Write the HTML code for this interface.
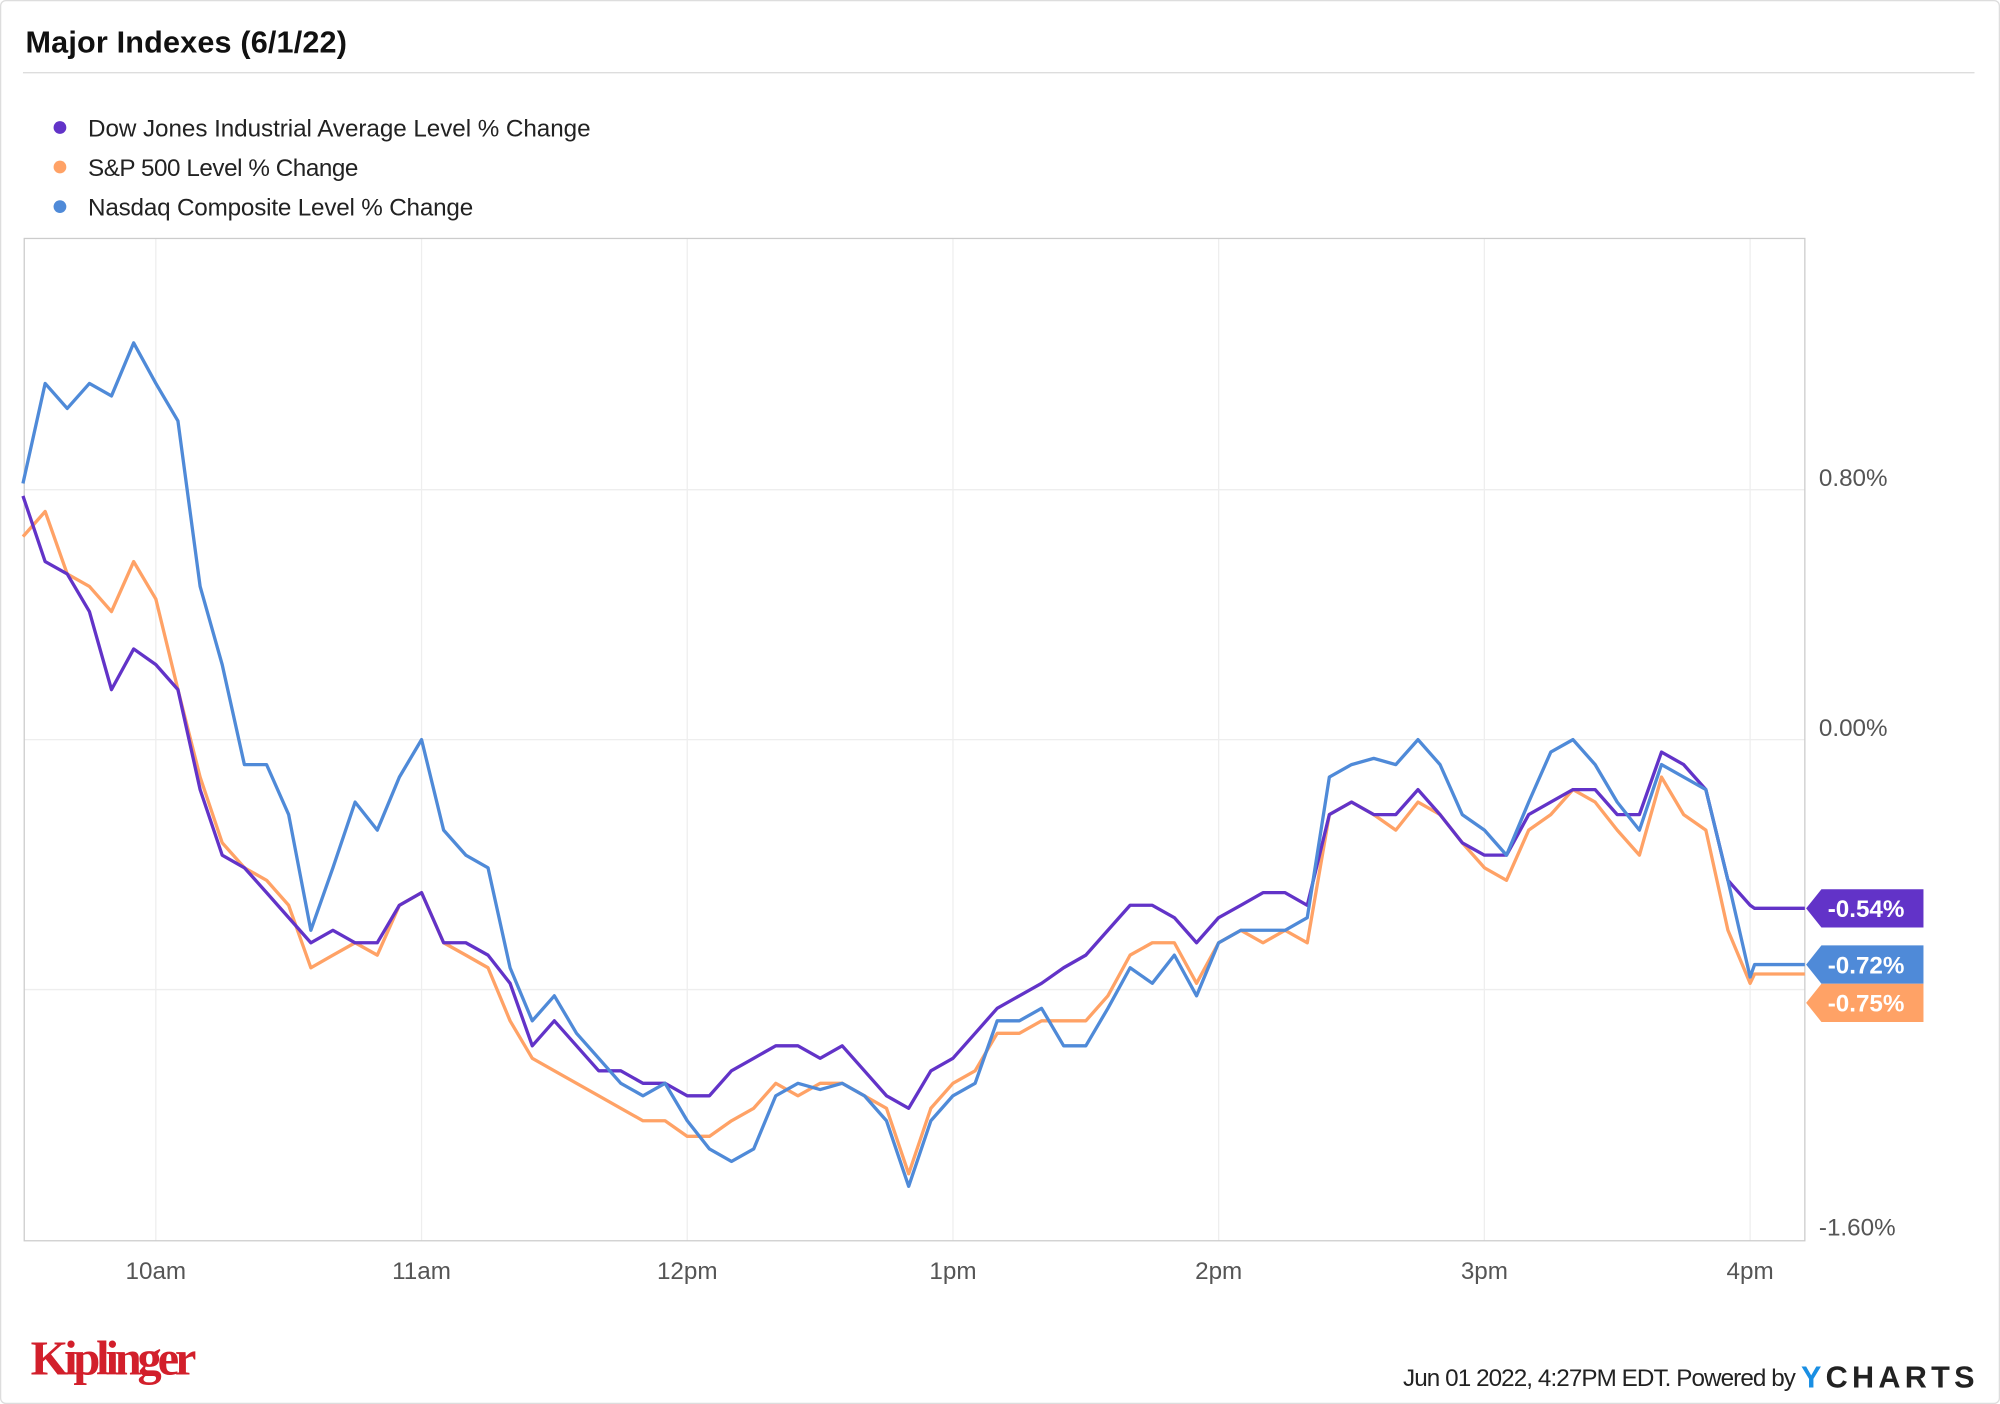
<!DOCTYPE html>
<html><head><meta charset="utf-8"><style>
html,body{margin:0;padding:0;background:#fff;}
svg{display:block;font-family:"Liberation Sans",sans-serif;}
</style></head><body>
<svg width="2000" height="1404" viewBox="0 0 1568 1101" preserveAspectRatio="none" xmlns="http://www.w3.org/2000/svg">
<rect x="0.5" y="0.5" width="1567" height="1100" rx="4" fill="#fff" stroke="#ddd"/>
<text x="20" y="41" font-size="24" font-weight="bold" fill="#111" textLength="252">Major Indexes (6/1/22)</text>
<line x1="18" y1="57" x2="1548" y2="57" stroke="#ddd"/>
<g font-size="19" fill="#222">
<g><circle cx="47" cy="100" r="5" fill="#6233c8"/><text x="69" y="107" textLength="394">Dow Jones Industrial Average Level % Change</text></g>
<g><circle cx="47" cy="131" r="5" fill="#ffa266"/><text x="69" y="138" textLength="212">S&amp;P 500 Level % Change</text></g>
<g><circle cx="47" cy="162" r="5" fill="#4f8ad8"/><text x="69" y="169" textLength="302">Nasdaq Composite Level % Change</text></g>
</g>
<g id="grid"></g>
<rect x="19" y="187" width="1396" height="786" fill="none" stroke="#ccc"/>
<g id="series"></g>
<g id="tags"></g>
<text x="24" y="1078" font-family="Liberation Serif,serif" font-size="38" font-weight="bold" fill="#d21f2b" textLength="130">Kiplinger</text>
<text x="1100" y="1087" font-size="19" fill="#222" textLength="308">Jun 01 2022, 4:27PM EDT. Powered by</text>
<text x="1412" y="1088" font-size="24" font-weight="bold" fill="#222" textLength="136"><tspan fill="#1a8fe3">Y</tspan>CHARTS</text>
</svg>
<script>
const xTicks=['10am','11am','12pm','1pm','2pm','3pm','4pm'];
const xTickMin=[30,90,150,210,270,330,390];
const yTicks=[0.8,0,-1.6];
const yGrid=[0.8,0,-0.8];
const yTickLabels=['0.80%','0.00%','-1.60%'];
const stepMin=5;
const dow=[0.78,0.57,0.53,0.41,0.16,0.29,0.24,0.16,-0.16,-0.37,
-0.41,-0.49,-0.57,-0.65,-0.61,-0.65,-0.65,-0.53,-0.49,-0.65,
-0.65,-0.69,-0.78,-0.98,-0.90,-0.98,-1.06,-1.06,-1.10,-1.10,
-1.14,-1.14,-1.06,-1.02,-0.98,-0.98,-1.02,-0.98,-1.06,-1.14,
-1.18,-1.06,-1.02,-0.94,-0.86,-0.82,-0.78,-0.73,-0.69,-0.61,
-0.53,-0.53,-0.57,-0.65,-0.57,-0.53,-0.49,-0.49,-0.53,-0.24,
-0.20,-0.24,-0.24,-0.16,-0.24,-0.33,-0.37,-0.37,-0.24,-0.20,
-0.16,-0.16,-0.24,-0.24,-0.04,-0.08,-0.16,-0.45,-0.53];
const sp500=[0.65,0.73,0.53,0.49,0.41,0.57,0.45,0.16,-0.12,-0.33,
-0.41,-0.45,-0.53,-0.73,-0.69,-0.65,-0.69,-0.53,-0.49,-0.65,
-0.69,-0.73,-0.90,-1.02,-1.06,-1.10,-1.14,-1.18,-1.22,-1.22,
-1.27,-1.27,-1.22,-1.18,-1.10,-1.14,-1.10,-1.10,-1.14,-1.18,
-1.39,-1.18,-1.10,-1.06,-0.94,-0.94,-0.90,-0.90,-0.90,-0.82,
-0.69,-0.65,-0.65,-0.78,-0.65,-0.61,-0.65,-0.61,-0.65,-0.24,
-0.20,-0.24,-0.29,-0.20,-0.24,-0.33,-0.41,-0.45,-0.29,-0.24,
-0.16,-0.20,-0.29,-0.37,-0.12,-0.24,-0.29,-0.61,-0.78];
const nasdaq=[0.82,1.14,1.06,1.14,1.10,1.27,1.14,1.02,0.49,0.24,
-0.08,-0.08,-0.24,-0.61,-0.41,-0.20,-0.29,-0.12,0.00,-0.29,
-0.37,-0.41,-0.73,-0.90,-0.82,-0.94,-1.02,-1.10,-1.14,-1.10,
-1.22,-1.31,-1.35,-1.31,-1.14,-1.10,-1.12,-1.10,-1.14,-1.22,
-1.43,-1.22,-1.14,-1.10,-0.90,-0.90,-0.86,-0.98,-0.98,-0.86,
-0.73,-0.78,-0.69,-0.82,-0.65,-0.61,-0.61,-0.61,-0.57,-0.12,
-0.08,-0.06,-0.08,0.00,-0.08,-0.24,-0.29,-0.37,-0.20,-0.04,
0.00,-0.08,-0.20,-0.29,-0.08,-0.12,-0.16,-0.45,-0.76];
const finalValues=[-0.54,-0.72,-0.75];
const finalLabels=['-0.54%','-0.72%','-0.75%'];
const seriesList=[dow,nasdaq,sp500];
const seriesNames=['dow','nasdaq','sp500'];
const colors=['#6233c8','#4f8ad8','#ffa266'];
const NS='http://www.w3.org/2000/svg';
const x=m=>18+m*3.472;
const y=v=>580-v*245;
const grid=document.getElementById('grid');
function mk(t,a,p){const e=document.createElementNS(NS,t);for(const k in a)e.setAttribute(k,a[k]);p.appendChild(e);return e;}
xTickMin.forEach((m,i)=>{
 const l=mk('line',{x1:x(m),x2:x(m),y1:187,y2:973,stroke:'#eee'},grid);
 
 
 const t=mk('text',{x:x(m),y:1003,'text-anchor':'middle','font-size':19,fill:'#555'},grid);
 t.textContent=xTicks[i];
 
 
});
yGrid.forEach(v=>{
 const l=mk('line',{x1:19,x2:1415,y1:y(v),y2:y(v),stroke:'#eee'},grid);
 
 
});
yTicks.forEach((v,i)=>{
 const t=mk('text',{x:1426,y:y(v)-3,'font-size':19,fill:'#555'},grid);
 t.textContent=yTickLabels[i];
 
 
});
const sg=document.getElementById('series');
const order=[2,0,1];
order.forEach(i=>{
 const s=seriesList[i];
 let d=s.map((v,j)=>(j?'L':'M')+x(j*stepMin).toFixed(1)+' '+y(v).toFixed(1)).join(' ');
 d+=' L'+x((s.length-1)*stepMin+1).toFixed(1)+' '+y(finalValues[i]).toFixed(1)+' L1415 '+y(finalValues[i]).toFixed(1);
 const p=mk('path',{d:d,fill:'none',stroke:colors[i],'stroke-width':2.6,'stroke-linejoin':'round'},sg);
 
 
});
const tg=document.getElementById('tags');
let prev=-1e9;
[0,1,2].forEach(i=>{
 let cy=Math.max(y(finalValues[i]),prev+30);prev=cy;
 const g=mk('g',{},tg);
 
 
 mk('path',{d:`M1416 ${cy} L1428 ${cy-15} L1508 ${cy-15} L1508 ${cy+15} L1428 ${cy+15} Z`,fill:colors[i]},g);
 const t=mk('text',{x:1463,y:cy+7,'text-anchor':'middle','font-size':19,'font-weight':'bold',fill:'#fff'},g);
 t.textContent=finalLabels[i];
});
</script>
</body></html>
